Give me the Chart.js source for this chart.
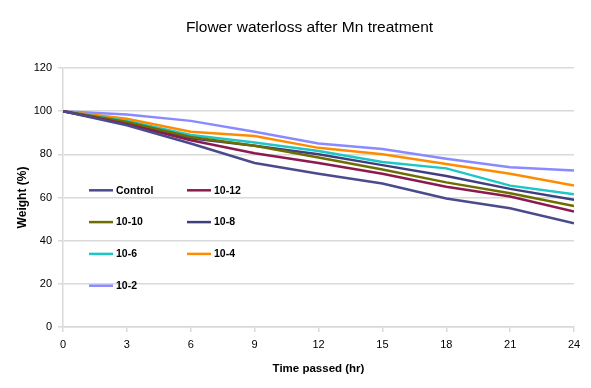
<!DOCTYPE html>
<html>
<head>
<meta charset="utf-8">
<script src="https://cdn.jsdelivr.net/npm/chart.js@4/dist/chart.umd.min.js"></script>
<style>
html,body{margin:0;padding:0;background:#fff;}
#wrap{width:591px;height:388px;position:relative;}
</style>
</head>
<body>
<div id="wrap"><canvas id="c" width="591" height="388"></canvas></div>
<script>
const hours = [0, 3, 6, 9, 12, 15, 18, 21, 24];
const seriesNames = ['Control', '10-12', '10-10', '10-8', '10-6', '10-4', '10-2'];
const control = [100, 93.5, 85, 76, 71, 66.5, 59.5, 55, 48];
const m12 = [100, 94, 86.5, 80.5, 76, 71, 65, 60.5, 53.5];
const m10 = [100, 95, 88, 84, 78.5, 73, 67, 62, 56];
const m8 = [100, 94.5, 87.5, 84, 80, 75, 70, 64, 59];
const m6 = [100, 95.5, 89, 85.5, 81.5, 76.5, 73.5, 65.5, 61.5];
const m4 = [100, 96.5, 90.5, 88.5, 83, 80, 75.5, 71, 65.5];
const m2 = [100, 98.5, 95.5, 90.5, 85, 82.5, 78, 74, 72.5];
const yTicks = [0, 20, 40, 60, 80, 100, 120];
const titleText = 'Flower waterloss after Mn treatment';
const xTitle = 'Time passed (hr)';
const yTitle = 'Weight (%)';

const colors = ['#4b4b8c', '#8c1a4e', '#6e6e00', '#3f3f80', '#1ec6c6', '#ff8c00', '#8a8aff'];
const values = [control, m12, m10, m8, m6, m4, m2];

const datasets = seriesNames.map((name, i) => ({
  label: name,
  data: hours.map((h, j) => ({x: h, y: values[i][j]})),
  borderColor: colors[i],
  backgroundColor: colors[i],
  borderWidth: 2.5,
  pointRadius: 0,
  tension: 0,
  fill: false
}));
// draw order: first series on top like Excel? keep order
const FONT = '"Liberation Sans", Arial, sans-serif';

const overlay = {
  id: 'overlay',
  afterDraw(chart) {
    const ctx = chart.ctx;
    ctx.save();
    // title
    ctx.fillStyle = '#000';
    ctx.font = '15.5px ' + FONT;
    ctx.textAlign = 'center';
    ctx.textBaseline = 'middle';
    ctx.fillText(titleText, 309.5, 28);
    // legend
    const cols = [89, 187];
    const rowY0 = 190.3, rowStep = 31.8;
    ctx.font = 'bold 10.5px ' + FONT;
    ctx.textAlign = 'left';
    chart.data.datasets.forEach((ds, i) => {
      const col = i % 2, row = Math.floor(i / 2);
      const x = cols[col], y = rowY0 + row * rowStep;
      ctx.strokeStyle = ds.borderColor;
      ctx.lineWidth = 2.5;
      ctx.beginPath();
      ctx.moveTo(x, y);
      ctx.lineTo(x + 24, y);
      ctx.stroke();
      ctx.fillStyle = '#000';
      ctx.fillText(ds.label, x + 27, y + 0.5);
    });
    ctx.restore();
  }
};

new Chart(document.getElementById('c'), {
  type: 'line',
  data: {datasets},
  plugins: [overlay],
  options: {
    responsive: false,
    animation: false,
    layout: {padding: {left: 0, right: 17, top: 68, bottom: 0}},
    plugins: {legend: {display: false}, title: {display: false}, tooltip: {enabled: false}},
    scales: {
      x: {
        type: 'linear',
        min: 0, max: 24,
        afterFit(s) { s.height = 61; },
        afterBuildTicks(s) { s.ticks = hours.map(v => ({value: v})); },
        ticks: {color: '#000', font: {family: FONT, size: 11}, padding: 6, maxRotation: 0},
        grid: {drawOnChartArea: false, drawTicks: true, tickLength: 5, color: '#d9d9d9', lineWidth: 1.5},
        border: {display: true, color: '#d9d9d9', width: 1.5},
        title: {display: true, text: xTitle, color: '#000', font: {family: FONT, size: 11.5, weight: 'bold'}, padding: {top: 0, bottom: 12}}
      },
      y: {
        min: 0, max: 120,
        afterFit(s) { s.width = 63; },
        afterBuildTicks(s) { s.ticks = yTicks.map(v => ({value: v})); },
        ticks: {color: '#000', font: {family: FONT, size: 11}, padding: 6},
        grid: {drawOnChartArea: true, drawTicks: true, tickLength: 5, color: '#d9d9d9', lineWidth: 1.5},
        border: {display: true, color: '#d9d9d9', width: 1.5},
        title: {display: true, text: yTitle, color: '#000', font: {family: FONT, size: 12, weight: 'bold'}, padding: {top: 15, bottom: 0}}
      }
    }
  }
});
</script>
</body>
</html>
